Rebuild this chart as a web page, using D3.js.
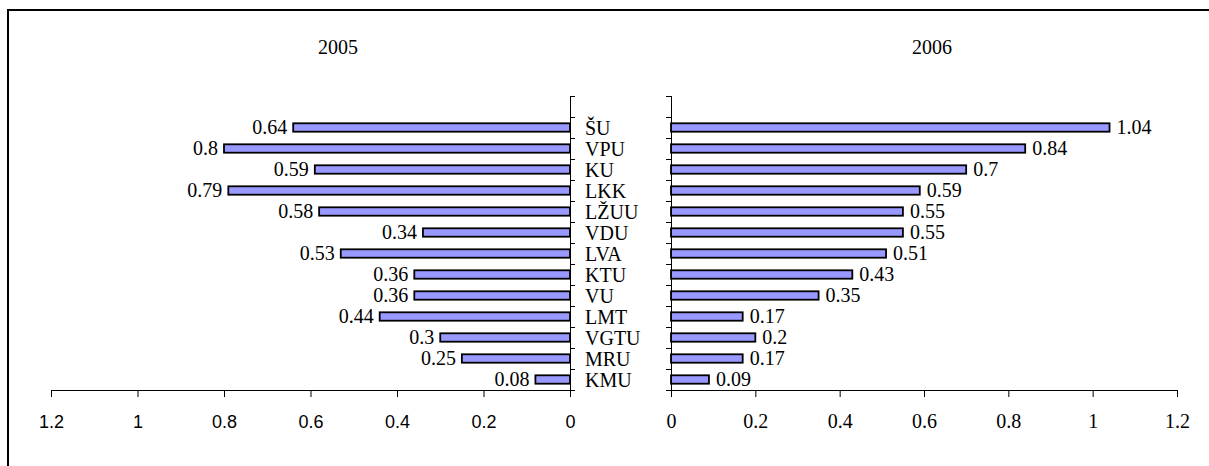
<!DOCTYPE html>
<html>
<head>
<meta charset="utf-8">
<script src="https://cdn.jsdelivr.net/npm/d3@7/dist/d3.min.js"></script>
<style>
  html, body { margin: 0; padding: 0; background: #fff; }
  svg { display: block; }
</style>
</head>
<body>
<svg id="chart" width="1209" height="466"></svg>
<script>
// ---- data ----
const categories = ["ŠU", "VPU", "KU", "LKK", "LŽUU", "VDU", "LVA", "KTU", "VU", "LMT", "VGTU", "MRU", "KMU"];
const values2005 = [0.64, 0.8, 0.59, 0.79, 0.58, 0.34, 0.53, 0.36, 0.36, 0.44, 0.3, 0.25, 0.08];
const values2006 = [1.04, 0.84, 0.7, 0.59, 0.55, 0.55, 0.51, 0.43, 0.35, 0.17, 0.2, 0.17, 0.09];
const panelTitles = ["2005", "2006"];
const tickValues = [0, 0.2, 0.4, 0.6, 0.8, 1, 1.2];

// ---- layout ----
const svg = d3.select("#chart");
const W = 1209, H = 466;
const barFill = "#9999FF";
const SERIF = "Liberation Serif";
const SANS = "Liberation Sans";

svg.append("rect").attr("x", 0).attr("y", 0).attr("width", W).attr("height", H).attr("fill", "#fff");
svg.append("rect").attr("x", 8).attr("y", 10).attr("width", 1300).attr("height", 600)
  .attr("fill", "none").attr("stroke", "#000").attr("stroke-width", 2);

const axisY = 390;
const xL = d3.scaleLinear().domain([0, 1.2]).range([570, 51]);
const xR = d3.scaleLinear().domain([0, 1.2]).range([671, 1177]);
const slots = [""].concat(categories);
const y = d3.scaleBand().domain(slots).range([96, axisY]).paddingInner(0.6).paddingOuter(0.3);
const step = y.step();
const fmt = d3.format("~g");

const rows = categories.map((c, i) => ({ c, v05: values2005[i], v06: values2006[i] }));

// ---- bars 2005 (left) ----
svg.append("g").selectAll("rect").data(rows).join("rect")
  .attr("x", d => xL(d.v05))
  .attr("y", d => y(d.c))
  .attr("width", d => xL(0) - xL(d.v05))
  .attr("height", y.bandwidth())
  .attr("fill", barFill).attr("stroke", "#000").attr("stroke-width", 1.8);

svg.append("g").selectAll("text").data(rows).join("text")
  .attr("x", d => xL(d.v05) - 6)
  .attr("y", d => y(d.c) + y.bandwidth() / 2)
  .attr("dy", "0.3em")
  .attr("text-anchor", "end")
  .attr("font-family", SERIF)
  .attr("font-size", 20)
  .text(d => fmt(d.v05));

// ---- bars 2006 (right) ----
svg.append("g").selectAll("rect").data(rows).join("rect")
  .attr("x", xR(0))
  .attr("y", d => y(d.c))
  .attr("width", d => xR(d.v06) - xR(0))
  .attr("height", y.bandwidth())
  .attr("fill", barFill).attr("stroke", "#000").attr("stroke-width", 1.8);

svg.append("g").selectAll("text").data(rows).join("text")
  .attr("x", d => xR(d.v06) + 7)
  .attr("y", d => y(d.c) + y.bandwidth() / 2)
  .attr("dy", "0.3em")
  .attr("text-anchor", "start")
  .attr("font-family", SERIF)
  .attr("font-size", 20)
  .text(d => fmt(d.v06));

// ---- category labels ----
svg.append("g").selectAll("text").data(categories).join("text")
  .attr("x", 585)
  .attr("y", d => y(d) + y.bandwidth() / 2)
  .attr("dy", "0.38em")
  .attr("font-family", SERIF)
  .attr("font-size", 20)
  .text(d => d);

// ---- vertical category axes ----
const bounds = d3.range(slots.length + 1).map(i => y.range()[0] + i * step);
function vAxis(x0, dir) {
  const g = svg.append("g").attr("stroke", "#000").attr("stroke-width", 1);
  g.append("line").attr("x1", x0 + 0.5).attr("x2", x0 + 0.5)
    .attr("y1", bounds[0]).attr("y2", axisY);
  g.selectAll("line.t").data(bounds).join("line").attr("class", "t")
    .attr("x1", x0).attr("x2", x0 + dir * 5)
    .attr("y1", d => Math.round(d) + 0.5).attr("y2", d => Math.round(d) + 0.5);
}
vAxis(xL(0), 1);
vAxis(xR(0), -1);

// ---- horizontal value axes ----
const gL = svg.append("g").attr("transform", `translate(0,${axisY})`)
  .call(d3.axisBottom(xL).tickValues(tickValues).tickFormat(fmt).tickSize(7).tickSizeOuter(0).tickPadding(18));
gL.selectAll("text").attr("font-family", SANS).attr("font-size", 18).attr("fill", "#000");
gL.selectAll("line,path").attr("stroke", "#000");

const gR = svg.append("g").attr("transform", `translate(0,${axisY})`)
  .call(d3.axisBottom(xR).tickValues(tickValues).tickFormat(fmt).tickSize(7).tickSizeOuter(0).tickPadding(17));
gR.selectAll("text").attr("font-family", SERIF).attr("font-size", 20).attr("fill", "#000");
gR.selectAll("line,path").attr("stroke", "#000");

// ---- panel titles ----
svg.append("g").selectAll("text").data(panelTitles).join("text")
  .attr("x", (d, i) => i === 0 ? 338 : 932)
  .attr("y", 54)
  .attr("text-anchor", "middle")
  .attr("font-family", SERIF)
  .attr("font-size", 20)
  .text(d => d);
</script>
</body>
</html>
